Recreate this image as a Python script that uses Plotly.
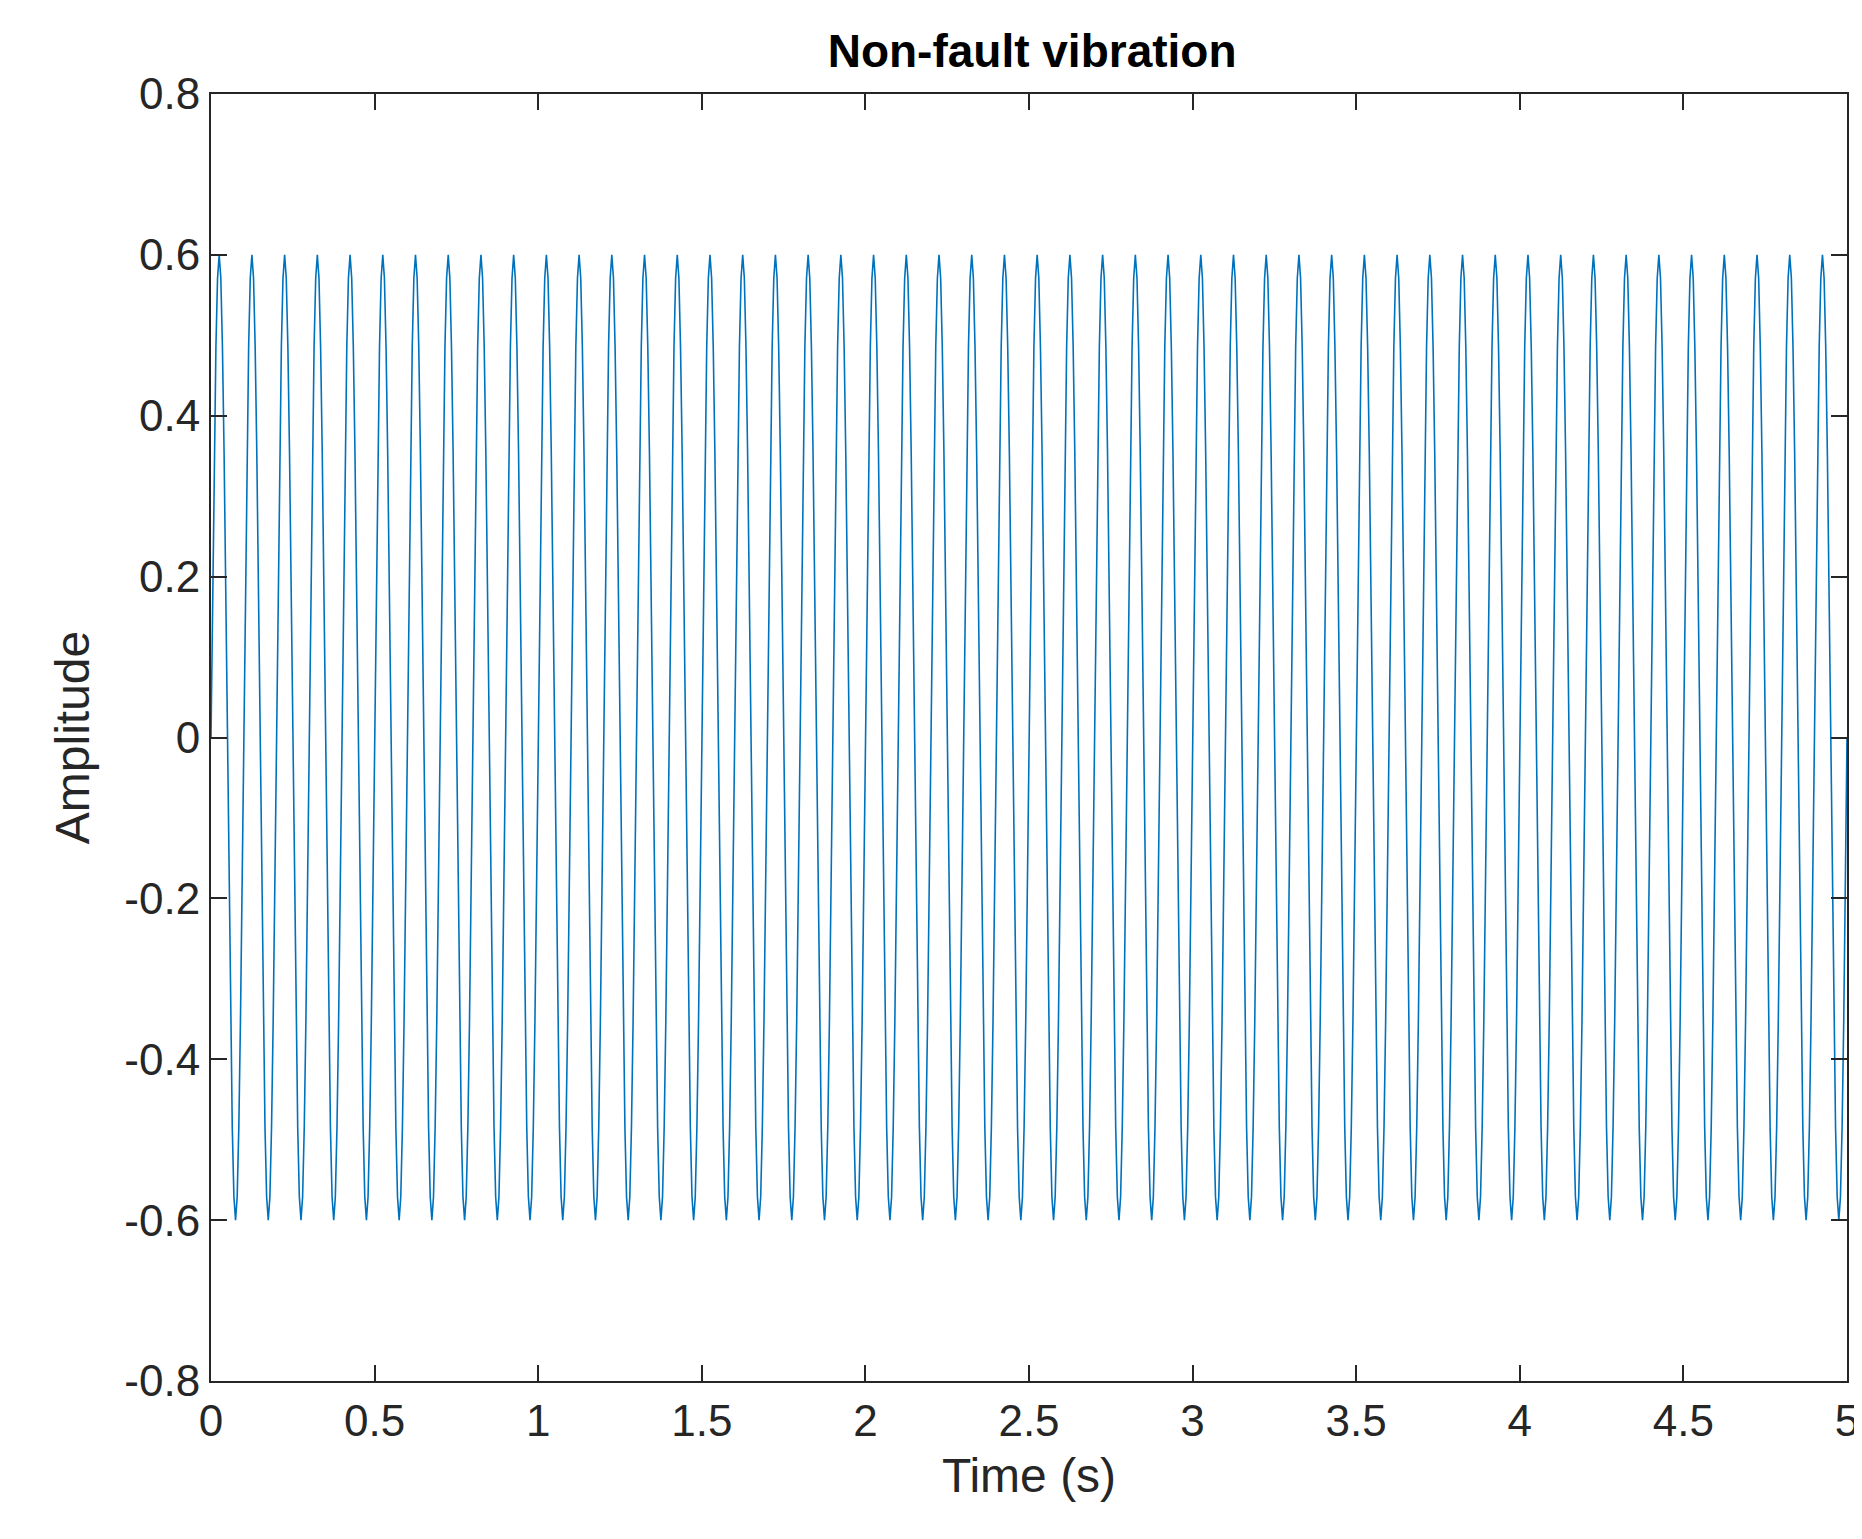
import plotly.graph_objects as go

# One period (10 Hz) of the vibration signal, 20 samples/period
period_samples = [0.0, 0.185, 0.353, 0.485, 0.571, 0.6, 0.571, 0.485, 0.353, 0.185,
                  0.0, -0.185, -0.353, -0.485, -0.571, -0.6, -0.571, -0.485, -0.353, -0.185]
n_periods = 50
duration = 5.0

amplitude = period_samples * n_periods + [0.0]
n = len(amplitude)
time = [duration * i / (n - 1) for i in range(n)]

x_ticks = [0, 0.5, 1, 1.5, 2, 2.5, 3, 3.5, 4, 4.5, 5]
x_labels = ["0", "0.5", "1", "1.5", "2", "2.5", "3", "3.5", "4", "4.5", "5"]
y_ticks = [-0.8, -0.6, -0.4, -0.2, 0, 0.2, 0.4, 0.6, 0.8]
y_labels = ["-0.8", "-0.6", "-0.4", "-0.2", "0", "0.2", "0.4", "0.6", "0.8"]

font = "Liberation Sans, Arial"
fig = go.Figure(go.Scatter(x=time, y=amplitude, mode="lines",
                           line=dict(color="#0072BD", width=1.6)))
axis_common = dict(showline=True, linecolor="#262626", linewidth=2, mirror="ticks",
                   ticks="inside", ticklen=16, tickwidth=2, tickcolor="#262626",
                   showgrid=False, zeroline=False,
                   tickfont=dict(family=font, size=44, color="#262626"))
fig.update_xaxes(range=[0, 5], tickvals=x_ticks, ticktext=x_labels,
                 title=dict(text="Time (s)", font=dict(family=font, size=48, color="#262626"), standoff=15),
                 **axis_common)
fig.update_yaxes(range=[-0.8, 0.8], tickvals=y_ticks, ticktext=y_labels,
                 title=dict(text="Amplitude", font=dict(family=font, size=48, color="#262626"), standoff=20),
                 **axis_common)
fig.update_layout(width=1862, height=1539, plot_bgcolor="white", paper_bgcolor="white",
                  margin=dict(l=203, r=23, t=86, b=166), showlegend=False,
                  title=dict(text="<b>Non-fault vibration</b>", x=0.55, xanchor="center",
                             y=0.972, yanchor="middle",
                             font=dict(family=font, size=46, color="#000000")))
fig.write_html("out.html")
